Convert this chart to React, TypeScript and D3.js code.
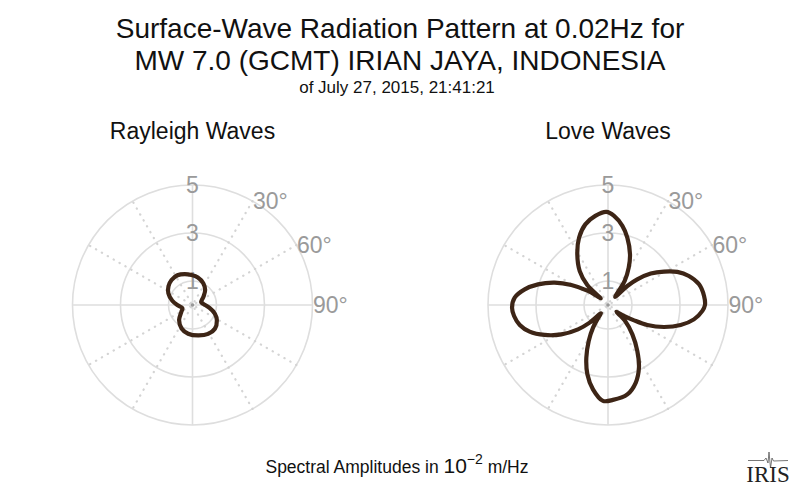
import * as d3 from "d3";

// azimuth in degrees (clockwise from north), amplitude in 10^-2 m/Hz
const rayleighAzimuth = [11, 25.7, 40, 51.3, 62, 72, 84, 99.8, 111.2, 122.2, 136.7, 151.6, 169.4, 188.6, 204.9, 221.7, 238, 252.6, 268, 282, 296, 308, 320, 333.2, 346, 358];
const rayleighAmplitude = [1.17, 1.02, 0.82, 0.6, 0.44, 0.38, 0.45, 0.72, 1.0, 1.2, 1.36, 1.37, 1.29, 1.21, 1.08, 0.84, 0.55, 0.44, 0.6, 0.86, 1.12, 1.27, 1.36, 1.39, 1.33, 1.25];

const loveAzimuth = [3.9, 10.3, 16, 23.5, 29, 34.8, 37.5, 41, 45.5, 48.8, 53.7, 59.2, 64.5, 70.3, 77.2, 84.6, 90, 93.6, 99.5, 105.4, 111.4, 117, 120.5, 124.9, 129, 132.5, 140.3, 147.5, 153.7, 160.4, 167.8, 177, 183, 190.1, 196.6, 202.4, 208.2, 213.5, 217, 220.3, 226.1, 230.9, 237.8, 244.7, 251.2, 257.2, 263.3, 268.4, 274.5, 280.6, 286.4, 292.7, 298.6, 305, 309, 312.3, 314, 320.2, 328.8, 336.7, 344.3, 351.9, 359];
const loveAmplitude = [3.72, 3.35, 2.92, 2.3, 1.78, 1.22, 0.7, 0.45, 1.13, 1.62, 2.21, 2.72, 3.2, 3.58, 3.89, 4.02, 4.04, 3.94, 3.63, 3.14, 2.51, 1.84, 1.26, 0.73, 0.45, 0.95, 1.59, 2.27, 2.91, 3.44, 3.81, 3.96, 4.0, 3.57, 3.01, 2.37, 1.7, 1.13, 0.7, 0.45, 1.06, 1.61, 2.3, 2.92, 3.45, 3.77, 3.94, 4.0, 3.9, 3.53, 3.04, 2.41, 1.74, 1.02, 0.6, 0.41, 1.2, 1.84, 2.47, 3.05, 3.49, 3.75, 3.88];

const ringTicks = [1, 3, 5];
const angleLabels = [30, 60, 90];
const solidSpokes = [0, 90];
const dottedSpokes = [30, 60, 120, 150];

const GRID = "#dedede";
const LABEL = "#9a9a9a";
const LINE = "#3d2516";
const FONT = "'Liberation Sans', Arial, sans-serif";

const rScale = d3.scaleLinear().domain([0, 5]).range([0, 120]);
const rad = (deg: number) => (deg * Math.PI) / 180;

function PolarPanel({ cx, cy, title, azimuth, amplitude }: { cx: number; cy: number; title: string; azimuth: number[]; amplitude: number[] }) {
    const points = azimuth.map((a, i) => [a, amplitude[i]] as [number, number]);
    const path = d3
        .lineRadial<[number, number]>()
        .angle((d) => rad(d[0]))
        .radius((d) => rScale(d[1]))
        .curve(d3.curveCatmullRomClosed.alpha(0.5))(points);
    const R = rScale(5);

    return (
        <g>
            <text x={cx} y={139} textAnchor="middle" fontSize={23} fontFamily={FONT} fill="#111">
                {title}
            </text>
            <g transform={`translate(${cx},${cy})`}>
                {ringTicks.map((t) => (
                    <circle key={t} r={rScale(t)} fill="none" stroke={GRID} strokeWidth={1.6} />
                ))}
                {dottedSpokes.map((a) => (
                    <line
                        key={a}
                        x1={R * Math.sin(rad(a))}
                        y1={-R * Math.cos(rad(a))}
                        x2={-R * Math.sin(rad(a))}
                        y2={R * Math.cos(rad(a))}
                        stroke="#d4d4d4"
                        strokeWidth={2.2}
                        strokeDasharray="0.3,6.5"
                        strokeLinecap="round"
                    />
                ))}
                {solidSpokes.map((a) => (
                    <line
                        key={a}
                        x1={R * Math.sin(rad(a))}
                        y1={-R * Math.cos(rad(a))}
                        x2={-R * Math.sin(rad(a))}
                        y2={R * Math.cos(rad(a))}
                        stroke={GRID}
                        strokeWidth={1.6}
                    />
                ))}
                <circle r={1.8} fill="#999" />
                {ringTicks.map((t) => (
                    <text key={t} x={0} y={-rScale(t)} dy="0.36em" textAnchor="middle" fontSize={23} fontFamily={FONT} fill={LABEL}>
                        {t}
                    </text>
                ))}
                {angleLabels.map((a) => (
                    <text
                        key={a}
                        x={R * Math.sin(rad(a)) + 0.5}
                        y={-R * Math.cos(rad(a))}
                        dy="0.36em"
                        fontSize={23}
                        fontFamily={FONT}
                        fill={LABEL}
                    >
                        {a}°
                    </text>
                ))}
                <path d={path || ""} fill="none" stroke={LINE} strokeWidth={4.2} strokeLinejoin="round" />
            </g>
        </g>
    );
}

export default function App() {
    return (
        <svg width={800} height={496} style={{ position: "absolute", left: 0, top: 0, background: "#fff" }}>
            <text x={400} y={38} textAnchor="middle" fontSize={28} fontFamily={FONT} fill="#111">
                Surface-Wave Radiation Pattern at 0.02Hz for
            </text>
            <text x={400} y={70} textAnchor="middle" fontSize={28} fontFamily={FONT} fill="#111">
                MW 7.0 (GCMT) IRIAN JAYA, INDONESIA
            </text>
            <text x={397} y={93} textAnchor="middle" fontSize={17} fontFamily={FONT} fill="#111">
                of July 27, 2015, 21:41:21
            </text>

            <PolarPanel cx={192.5} cy={305} title="Rayleigh Waves" azimuth={rayleighAzimuth} amplitude={rayleighAmplitude} />
            <PolarPanel cx={608} cy={305} title="Love Waves" azimuth={loveAzimuth} amplitude={loveAmplitude} />

            <text x={397} y={473} textAnchor="middle" fontSize={17.5} fontFamily={FONT} fill="#111">
                Spectral Amplitudes in <tspan fontSize={21}>10</tspan>
                <tspan fontSize={14} dy={-9}>−2</tspan>
                <tspan dy={9}> m/Hz</tspan>
            </text>

            {/* IRIS logo */}
            <g transform="translate(768,0)">
                <path
                    d="M-20,460.5 L-4,460.5 L-2,458 L0,463 L1,452 L2.5,468 L4,458 L5.5,461 L20,460.5"
                    fill="none"
                    stroke="#555"
                    strokeWidth={0.8}
                />
                <text x={0} y={482} textAnchor="middle" fontSize={23} fontFamily="'Liberation Serif', 'DejaVu Serif', serif" fill="#222">
                    IRIS
                </text>
            </g>
        </svg>
    );
}
